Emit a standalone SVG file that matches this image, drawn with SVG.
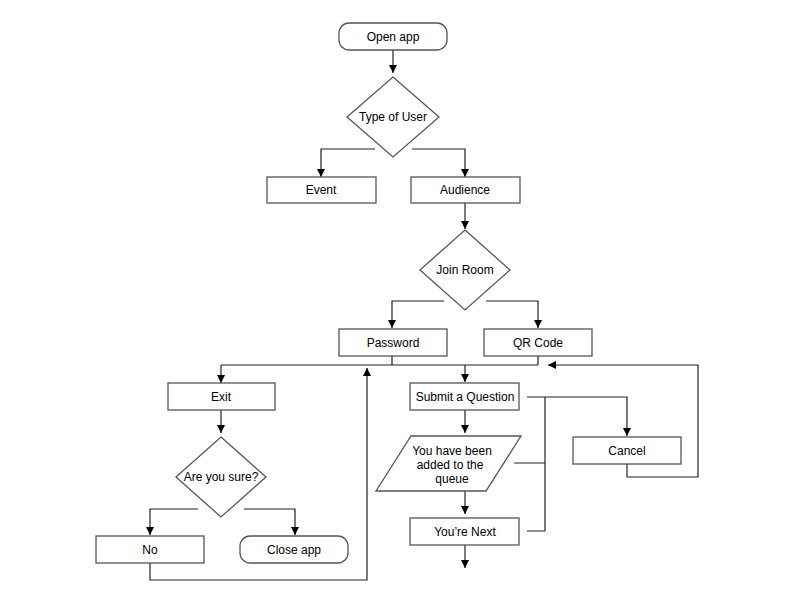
<svg xmlns="http://www.w3.org/2000/svg" width="792" height="612" viewBox="0 0 792 612">
<defs>
<marker id="a" viewBox="0 0 10 10" refX="10" refY="5" markerWidth="8" markerHeight="8" markerUnits="userSpaceOnUse" orient="auto"><path d="M0,0L10,5L0,10z" fill="#000"/></marker>
<style>
.n{fill:#fff;stroke:#555;stroke-width:1.3}
.c{fill:none;stroke:#222;stroke-width:1.2}
.m{marker-end:url(#a)}
text{font-family:"Liberation Sans",Arial,sans-serif;font-size:12px;text-anchor:middle;fill:#000}
</style>
</defs>
<rect width="792" height="612" fill="#fff"/>
<g id="connectors">
<path class="c m" d="M393,50V73"/>
<path class="c m" d="M375,149H321V177"/>
<path class="c m" d="M412,149H465V177"/>
<path class="c m" d="M465,203V229"/>
<path class="c m" d="M444,301H392V328"/>
<path class="c m" d="M486,301H538V328"/>
<path class="c" d="M392,356V365M538,356V365M221,365H538"/>
<path class="c m" d="M221,365V383"/>
<path class="c m" d="M465,365V382"/>
<path class="c m" d="M627,463V477H698V365H548"/>
<path class="c m" d="M221,410V433"/>
<path class="c m" d="M198,509H150V535"/>
<path class="c m" d="M244,509H295V535"/>
<path class="c m" d="M150,563V580H367V368"/>
<path class="c m" d="M465,410V433"/>
<path class="c m" d="M465,491V514"/>
<path class="c m" d="M465,545V568"/>
<path class="c m" d="M527,397H627V436"/>
<path class="c" d="M545,397V531M514,463H545M527,531H545"/>
</g>
<g id="open"><rect class="n" x="339" y="23" width="108" height="27" rx="10"/><text x="393" y="41">Open app</text></g>
<g id="type"><path class="n" d="M393,77L439,117L393,157L347,117z"/><text x="393" y="121">Type of User</text></g>
<g id="event"><rect class="n" x="267" y="177" width="109" height="26"/><text x="321" y="194">Event</text></g>
<g id="audience"><rect class="n" x="411" y="177" width="109" height="26"/><text x="465" y="194">Audience</text></g>
<g id="join"><path class="n" d="M465,230L510,270L465,310L420,270z"/><text x="465" y="274">Join Room</text></g>
<g id="password"><rect class="n" x="339" y="329" width="108" height="27"/><text x="393" y="347">Password</text></g>
<g id="qr"><rect class="n" x="484" y="329" width="108" height="27"/><text x="538" y="347">QR Code</text></g>
<g id="exit"><rect class="n" x="168" y="383" width="107" height="27"/><text x="221" y="401">Exit</text></g>
<g id="sure"><path class="n" d="M221,437L266,477L221,517L176,477z"/><text x="221" y="481">Are you sure?</text></g>
<g id="no"><rect class="n" x="96" y="536" width="108" height="27"/><text x="150" y="554">No</text></g>
<g id="close"><rect class="n" x="240" y="536" width="108" height="27" rx="10"/><text x="294" y="554">Close app</text></g>
<g id="submit"><rect class="n" x="410" y="383" width="109" height="27"/><text x="465" y="401">Submit a Question</text></g>
<g id="queue"><path class="n" d="M411,436H521L486,491H376z"/><text x="452" y="455">You have been</text><text x="450" y="469">added to the</text><text x="452" y="483">queue</text></g>
<g id="next"><rect class="n" x="410" y="518" width="109" height="27"/><text x="465" y="536">You’re Next</text></g>
<g id="cancel"><rect class="n" x="573" y="437" width="108" height="27"/><text x="627" y="455">Cancel</text></g>
</svg>
